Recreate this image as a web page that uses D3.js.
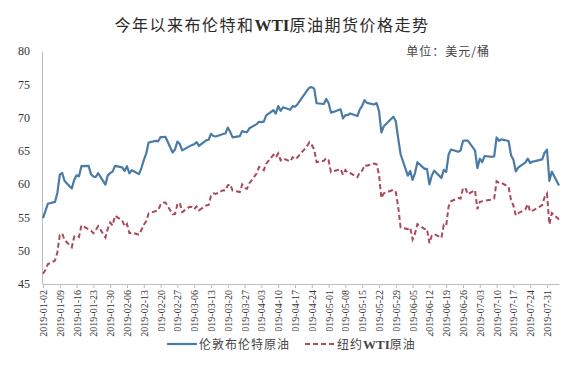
<!DOCTYPE html>
<html>
<head>
<meta charset="utf-8">
<script src="https://cdn.jsdelivr.net/npm/d3@7"></script>
<style>
  body { margin: 0; background: #fff; }
  svg { display: block; }
</style>
</head>
<body>
<div id="chart-area"></div>
<script>
// trading days, Jan 2 - Aug 5 2019
var dates = [
  "2019-01-02","2019-01-03","2019-01-04","2019-01-07","2019-01-08","2019-01-09","2019-01-10","2019-01-11",
  "2019-01-14","2019-01-15","2019-01-16","2019-01-17","2019-01-18","2019-01-21","2019-01-22","2019-01-23",
  "2019-01-24","2019-01-25","2019-01-28","2019-01-29","2019-01-30","2019-01-31",
  "2019-02-01","2019-02-04","2019-02-05","2019-02-06","2019-02-07","2019-02-08","2019-02-11","2019-02-12",
  "2019-02-13","2019-02-14","2019-02-15","2019-02-18","2019-02-19","2019-02-20","2019-02-21","2019-02-22",
  "2019-02-25","2019-02-26","2019-02-27","2019-02-28",
  "2019-03-01","2019-03-04","2019-03-05","2019-03-06","2019-03-07","2019-03-08","2019-03-11","2019-03-12",
  "2019-03-13","2019-03-14","2019-03-15","2019-03-18","2019-03-19","2019-03-20","2019-03-21","2019-03-22",
  "2019-03-25","2019-03-26","2019-03-27","2019-03-28","2019-03-29",
  "2019-04-01","2019-04-02","2019-04-03","2019-04-04","2019-04-05","2019-04-08","2019-04-09","2019-04-10",
  "2019-04-11","2019-04-12","2019-04-15","2019-04-16","2019-04-17","2019-04-18","2019-04-22","2019-04-23",
  "2019-04-24","2019-04-25","2019-04-26","2019-04-29","2019-04-30",
  "2019-05-01","2019-05-02","2019-05-03","2019-05-06","2019-05-07","2019-05-08","2019-05-09","2019-05-10",
  "2019-05-13","2019-05-14","2019-05-15","2019-05-16","2019-05-17","2019-05-20","2019-05-21","2019-05-22",
  "2019-05-23","2019-05-24","2019-05-28","2019-05-29","2019-05-30","2019-05-31",
  "2019-06-03","2019-06-04","2019-06-05","2019-06-06","2019-06-07","2019-06-10","2019-06-11","2019-06-12",
  "2019-06-13","2019-06-14","2019-06-17","2019-06-18","2019-06-19","2019-06-20","2019-06-21","2019-06-24",
  "2019-06-25","2019-06-26","2019-06-27","2019-06-28",
  "2019-07-01","2019-07-02","2019-07-03","2019-07-04","2019-07-05","2019-07-08","2019-07-09","2019-07-10",
  "2019-07-11","2019-07-12","2019-07-15","2019-07-16","2019-07-17","2019-07-18","2019-07-19","2019-07-22",
  "2019-07-23","2019-07-24","2019-07-25","2019-07-26","2019-07-29","2019-07-30","2019-07-31",
  "2019-08-01","2019-08-02","2019-08-05"
];

var brent = [
  54.91,55.95,57.06,57.33,58.72,61.44,61.68,60.48,59.35,60.64,61.32,61.18,62.70,62.74,61.50,61.14,61.09,61.64,59.93,61.32,61.65,61.89,
  62.75,62.51,61.98,62.69,61.63,62.10,61.51,62.42,63.61,64.57,66.25,66.50,66.45,67.08,67.07,67.12,64.76,65.21,66.39,66.03,
  65.07,65.67,65.86,65.99,66.30,65.74,66.58,66.67,67.55,67.23,67.16,67.54,67.61,68.50,67.86,67.03,67.21,67.97,67.83,67.82,68.39,
  69.01,69.37,69.31,69.40,70.34,71.10,70.61,71.73,71.02,71.55,71.18,71.72,71.62,71.97,74.04,74.51,74.57,74.35,72.15,72.04,72.80,
  72.18,70.75,70.85,71.24,69.88,70.37,70.39,70.62,70.23,71.24,71.77,72.62,72.21,71.97,72.18,70.99,67.76,68.69,70.11,69.45,66.87,64.49,
  61.28,61.97,60.63,61.67,63.29,62.29,62.29,59.97,61.31,62.01,60.94,62.14,61.82,64.45,65.20,64.86,65.05,66.49,66.55,66.55,
  65.06,62.40,63.82,63.30,64.23,64.11,64.16,67.01,66.52,66.72,66.48,64.35,63.66,61.93,62.47,63.26,63.83,63.18,63.39,63.46,63.71,64.72,65.17,
  60.50,61.89,59.81
];

// null = no WTI settlement that day
var wti = [
  46.54,47.09,47.96,48.52,49.78,52.36,52.59,51.59,50.51,52.11,52.31,52.07,53.80,null,53.01,52.62,53.13,53.69,51.99,53.31,54.23,53.79,
  55.26,54.56,53.66,54.01,52.64,52.72,52.41,53.10,53.90,54.41,55.59,null,56.09,56.92,57.26,57.26,55.48,55.50,56.94,57.22,
  55.80,56.59,56.56,56.22,56.66,56.07,56.79,56.87,58.26,58.61,58.52,59.09,59.03,59.83,59.98,59.04,58.82,59.94,59.41,59.30,60.14,
  61.59,62.58,62.46,62.10,63.08,64.40,64.00,64.61,63.58,63.89,63.40,64.05,63.76,64.00,65.70,66.30,65.89,65.21,63.30,63.50,63.91,
  63.60,61.81,61.94,62.25,61.40,62.12,61.70,61.66,61.04,61.78,62.02,62.87,62.76,63.10,62.99,61.42,57.91,58.63,59.14,58.81,56.59,53.50,
  53.25,53.48,51.68,52.59,53.99,53.26,53.27,51.14,52.28,52.51,51.93,53.90,53.76,56.65,57.43,57.90,57.83,59.38,59.43,58.47,
  59.09,56.25,57.34,null,57.51,57.66,57.83,60.43,60.20,60.21,59.58,57.62,56.78,55.30,55.63,56.22,57.01,55.88,56.02,56.20,56.87,58.05,58.58,
  53.95,55.66,54.69
];

var tickLabels = [
  "2019-01-02","2019-01-09","2019-01-16","2019-01-23","2019-01-30","2019-02-06","2019-02-13","2019-02-20",
  "2019-02-27","2019-03-06","2019-03-13","2019-03-20","2019-03-27","2019-04-03","2019-04-10","2019-04-17",
  "2019-04-24","2019-05-01","2019-05-08","2019-05-15","2019-05-22","2019-05-29","2019-06-05","2019-06-12",
  "2019-06-19","2019-06-26","2019-07-03","2019-07-10","2019-07-17","2019-07-24","2019-07-31"
];
var yTicks = [45, 50, 55, 60, 65, 70, 75, 80];

var width = 580, height = 368;
var parse = d3.timeParse("%Y-%m-%d");

var svg = d3.select("#chart-area")
  .append("svg")
    .attr("width", width)
    .attr("height", height);

var x = d3.scaleTime()
  .domain([parse("2019-01-02"), parse("2019-08-05")])
  .range([43, 559]);

var y = d3.scaleLinear()
  .domain([45, 80])
  .range([284, 51]);

// title
var title = svg.append("text")
  .attr("x", 272)
  .attr("y", 31)
  .attr("text-anchor", "middle")
  .attr("font-family", "'Noto Sans CJK SC'")
  .attr("font-size", "16px")
  .attr("font-weight", 400)
  .attr("letter-spacing", "1.5px")
  .attr("fill", "#2b2b2b");
title.append("tspan").text("今年以来布伦特和");
title.append("tspan")
  .attr("font-family", "'Liberation Serif'")
  .attr("font-weight", "bold")
  .attr("font-size", "17px")
  .attr("letter-spacing", "0px")
  .text("WTI");
title.append("tspan").text("原油期货价格走势");

svg.append("text")
  .attr("x", 490)
  .attr("y", 56)
  .attr("text-anchor", "end")
  .attr("font-family", "'Noto Sans CJK SC'")
  .attr("font-size", "12px")
  .attr("letter-spacing", "1px")
  .attr("fill", "#444")
  .text("单位：美元/桶");

// axes
var leftAxis = d3.axisLeft(y)
  .tickValues(yTicks)
  .tickSize(0)
  .tickPadding(12);
var gy = svg.append("g")
  .attr("class", "left axis")
  .attr("transform", "translate(42,0)")
  .call(leftAxis);
gy.select(".domain").attr("stroke", "#bdbdbd");
gy.selectAll("text")
  .attr("font-family", "'Liberation Serif'")
  .attr("font-size", "12px")
  .attr("fill", "#333");

var bottomAxis = d3.axisBottom(x)
  .tickValues(tickLabels.map(parse))
  .tickFormat(d3.timeFormat("%Y-%m-%d"))
  .tickSize(4)
  .tickSizeOuter(0);
var gx = svg.append("g")
  .attr("class", "bottom axis")
  .attr("transform", "translate(0,284)")
  .call(bottomAxis);
gx.select(".domain").attr("stroke", "#bdbdbd");
gx.selectAll(".tick line").attr("stroke", "#bdbdbd");
gx.selectAll("text")
  .attr("transform", "rotate(-90)")
  .attr("text-anchor", "end")
  .attr("x", -6)
  .attr("y", 0)
  .attr("dy", "0.35em")
  .attr("font-family", "'Liberation Serif'")
  .attr("font-size", "10px")
  .attr("fill", "#333");

// lines
var pts = dates.map(function(d, i){
  return { date: parse(d), brent: brent[i], wti: wti[i] };
});

var lineBrent = d3.line()
  .x(function(d){ return x(d.date); })
  .y(function(d){ return y(d.brent); });
var lineWti = d3.line()
  .x(function(d){ return x(d.date); })
  .y(function(d){ return y(d.wti); });

svg.append("path")
  .datum(pts.filter(function(d){ return d.wti != null; }))
  .attr("d", lineWti)
  .attr("fill", "none")
  .attr("stroke", "#a9495a")
  .attr("stroke-width", 2)
  .attr("stroke-dasharray", "5,3");

svg.append("path")
  .datum(pts)
  .attr("d", lineBrent)
  .attr("fill", "none")
  .attr("stroke", "#4a7ba6")
  .attr("stroke-width", 2.2)
  .attr("stroke-linejoin", "round");

// legend (white box sits over the label ends)
svg.append("rect")
  .attr("x", 152)
  .attr("y", 331)
  .attr("width", 276)
  .attr("height", 30)
  .attr("fill", "#fff");

var legend = [
  { name: "伦敦布伦特原油", x: 167, color: "#4a7ba6", dash: null },
  { name: "纽约WTI原油", x: 305, color: "#a9495a", dash: "5,3" }
];
legend.forEach(function(l){
  svg.append("line")
    .attr("x1", l.x).attr("x2", l.x + 30)
    .attr("y1", 344).attr("y2", 344)
    .attr("stroke", l.color)
    .attr("stroke-width", 2.2)
    .attr("stroke-dasharray", l.dash);
  var t = svg.append("text")
    .attr("x", l.x + 32)
    .attr("y", 349)
    .attr("font-family", "'Noto Sans CJK SC'")
    .attr("font-size", "12px")
    .attr("letter-spacing", "1px")
    .attr("fill", "#444");
  if (l.name.indexOf("WTI") >= 0) {
    t.append("tspan").text("纽约");
    t.append("tspan").attr("font-family", "'Liberation Serif'").attr("font-weight", "bold").attr("font-size", "13px").attr("letter-spacing", "0px").text("WTI");
    t.append("tspan").text("原油");
  } else {
    t.text(l.name);
  }
});
</script>
</body>
</html>
